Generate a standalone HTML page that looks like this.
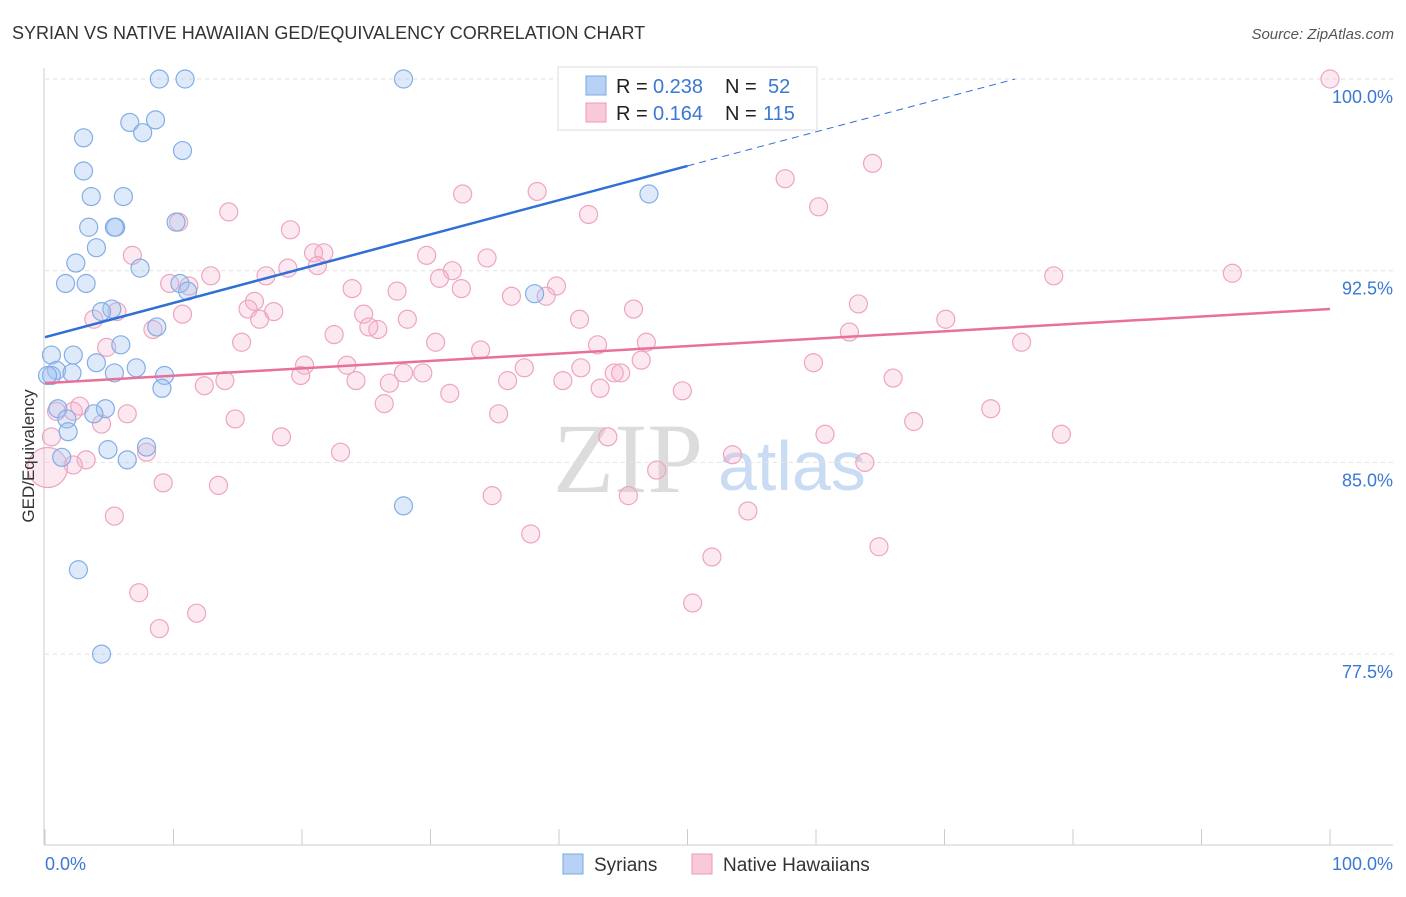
<!DOCTYPE html>
<html><head><meta charset="utf-8"><style>
body{margin:0;background:#fff;font-family:"Liberation Sans",sans-serif;}
svg text{font-family:"Liberation Sans",sans-serif;}
</style></head><body>
<svg id="chart" width="1406" height="892" xmlns="http://www.w3.org/2000/svg">
<text x="12" y="39" font-size="18" fill="#333">SYRIAN VS NATIVE HAWAIIAN GED/EQUIVALENCY CORRELATION CHART</text>
<text x="1394" y="39" font-size="15" fill="#555" font-style="italic" text-anchor="end">Source: ZipAtlas.com</text>
<g>
<text x="553" y="492" font-size="100" fill="#dcdcdc" style="font-family:'Liberation Serif',serif">ZIP</text>
<text x="718" y="490" font-size="70" fill="#c9dcf3">atlas</text>
</g>
<g id="grid"></g>
<g id="axes"></g>
<g id="marks"></g>
<g>
<rect x="558" y="67" width="259" height="63" fill="#fff" stroke="#ddd"/>
<rect x="586" y="76" width="20" height="19" fill="#b7d2f5" stroke="#7aa8e0"/>
<rect x="586" y="103" width="20" height="19" fill="#f9c9d9" stroke="#ec9ab8"/>
<text x="616" y="93" font-size="20" fill="#222">R =</text>
<text x="653" y="93" font-size="20" fill="#3a78d4">0.238</text>
<text x="725" y="93" font-size="20" fill="#222">N =</text>
<text x="768" y="93" font-size="20" fill="#3a78d4">52</text>
<text x="616" y="120" font-size="20" fill="#222">R =</text>
<text x="653" y="120" font-size="20" fill="#3a78d4">0.164</text>
<text x="725" y="120" font-size="20" fill="#222">N =</text>
<text x="763" y="120" font-size="20" fill="#3a78d4">115</text>
</g>
<g>
<rect x="563" y="854" width="20" height="20" fill="#b7d2f5" stroke="#7aa8e0"/>
<text x="594" y="871" font-size="19" fill="#333">Syrians</text>
<rect x="692" y="854" width="20" height="20" fill="#f9c9d9" stroke="#ec9ab8"/>
<text x="723" y="871" font-size="19" fill="#333">Native Hawaiians</text>
</g>
<text transform="translate(34,456) rotate(-90)" font-size="17" fill="#333" text-anchor="middle">GED/Equivalency</text>
</svg>
<script>
const blueX=[8.9,10.9,27.9,3.0,6.6,8.6,7.6,10.7,3.0,3.6,6.1,3.4,5.5,5.4,10.2,4.0,2.4,7.4,1.6,3.2,10.5,11.1,5.2,4.4,8.7,5.9,0.5,2.2,4.0,7.1,0.9,2.1,5.4,0.5,9.3,9.1,1.0,4.7,3.8,1.7,1.8,4.9,7.9,1.3,6.4,27.9,2.6,4.4,47.0,38.1,0.2];
const blueY=[100,100,100,97.7,98.3,98.4,97.9,97.2,96.4,95.4,95.4,94.2,94.2,94.2,94.4,93.4,92.8,92.6,92.0,92.0,92.0,91.7,91.0,90.9,90.3,89.6,89.2,89.2,88.9,88.7,88.6,88.5,88.5,88.4,88.4,87.9,87.1,87.1,86.9,86.7,86.2,85.5,85.6,85.2,85.1,83.3,80.8,77.5,95.5,91.6,88.4];
const pinkX=[59.3,100,64.4,57.6,32.5,38.3,60.2,42.3,14.3,10.4,19.1,20.9,21.7,6.8,29.7,34.4,17.2,12.9,18.9,21.2,31.7,30.7,78.5,92.4,23.9,27.4,32.4,39.8,36.3,39.0,11.2,9.7,16.3,15.8,17.8,16.7,10.7,3.8,5.6,24.8,25.9,28.2,41.6,45.8,63.3,70.1,8.4,22.5,25.2,62.6,15.3,30.4,43.0,46.8,76.0,4.8,33.9,20.2,23.5,46.4,59.8,41.7,19.9,14.0,24.2,26.8,27.9,29.4,36.0,37.3,40.3,44.3,44.8,43.2,49.6,66.0,12.4,31.5,26.4,2.2,0.9,2.7,6.4,14.8,35.3,67.6,73.6,4.4,18.4,43.8,60.7,79.1,0.5,23.0,7.9,3.2,2.2,53.5,63.8,47.6,9.2,13.5,34.8,45.4,5.4,54.7,37.8,51.9,64.9,7.3,11.8,8.9,50.4,0.2];
const pinkY=[100,100,96.7,96.1,95.5,95.6,95.0,94.7,94.8,94.4,94.1,93.2,93.2,93.1,93.1,93.0,92.3,92.3,92.6,92.7,92.5,92.2,92.3,92.4,91.8,91.7,91.8,91.9,91.5,91.5,91.9,92.0,91.3,91.0,90.9,90.6,90.8,90.6,90.9,90.8,90.2,90.6,90.6,91.0,91.2,90.6,90.2,90.0,90.3,90.1,89.7,89.7,89.6,89.7,89.7,89.5,89.4,88.8,88.8,89.0,88.9,88.7,88.4,88.2,88.2,88.1,88.5,88.5,88.2,88.7,88.2,88.5,88.5,87.9,87.8,88.3,88.0,87.7,87.3,87.0,87.0,87.2,86.9,86.7,86.9,86.6,87.1,86.5,86.0,86.0,86.1,86.1,86.0,85.4,85.4,85.1,84.9,85.3,85.0,84.7,84.2,84.1,83.7,83.7,82.9,83.1,82.2,81.3,81.7,79.9,79.1,78.5,79.5,84.8];
const yTicks=[100,92.5,85,77.5];
const yTickLabels=["100.0%","92.5%","85.0%","77.5%"];
const blueTrend=[[0,89.9],[50,96.6],[75.5,100]];
const pinkTrend=[[0,88.1],[100,91.0]];
const NS="http://www.w3.org/2000/svg";
const sx=v=>45+v*12.85, sy=v=>79+(100-v)*25.56;
function mk(p,t,a){const e=document.createElementNS(NS,t);for(const k in a)e.setAttribute(k,a[k]);p.appendChild(e);return e;}
const grid=document.getElementById('grid'),axes=document.getElementById('axes'),marks=document.getElementById('marks');
yTicks.forEach((t,i)=>{
 const l=mk(grid,'line',{x1:45,x2:1393,y1:sy(t),y2:sy(t),stroke:'#e2e2e2','stroke-dasharray':'4 4'});
 
 
 const tx=mk(axes,'text',{x:1393,y:sy(t)+24,'font-size':18,fill:'#3a78d4','text-anchor':'end'});
 tx.textContent=yTickLabels[i];
 
 
});
mk(axes,'line',{x1:44,x2:44,y1:68,y2:845,stroke:'#ccc'});
mk(axes,'line',{x1:44,x2:1393,y1:845,y2:845,stroke:'#ccc'});
for(let i=0;i<=10;i++){const t=mk(axes,'line',{x1:sx(i*10),x2:sx(i*10),y1:829,y2:845,stroke:'#ccc'});
 
 }
const x0=mk(axes,'text',{x:45,y:870,'font-size':18,fill:'#3a78d4'});x0.textContent='0.0%';


const x1=mk(axes,'text',{x:1393,y:870,'font-size':18,fill:'#3a78d4','text-anchor':'end'});x1.textContent='100.0%';


pinkX.forEach((x,i)=>{const c=mk(marks,'circle',{cx:sx(x),cy:sy(pinkY[i]),r:(i===pinkX.length-1?20:9),fill:'rgba(246,180,205,0.3)',stroke:'#eea5c0','stroke-width':1.2});
 
 });
blueX.forEach((x,i)=>{const c=mk(marks,'circle',{cx:sx(x),cy:sy(blueY[i]),r:9,fill:'rgba(160,195,240,0.35)',stroke:'#82aee6','stroke-width':1.2});
 
 });
const b1=mk(marks,'line',{x1:sx(blueTrend[0][0]),y1:sy(blueTrend[0][1]),x2:sx(blueTrend[1][0]),y2:sy(blueTrend[1][1]),stroke:'#2f6fd6','stroke-width':2.5});


const b2=mk(marks,'line',{x1:sx(blueTrend[1][0]),y1:sy(blueTrend[1][1]),x2:sx(blueTrend[2][0]),y2:sy(blueTrend[2][1]),stroke:'#2f6fd6','stroke-width':1,'stroke-dasharray':'7 5'});


const p1=mk(marks,'line',{x1:sx(pinkTrend[0][0]),y1:sy(pinkTrend[0][1]),x2:sx(pinkTrend[1][0]),y2:sy(pinkTrend[1][1]),stroke:'#e8709a','stroke-width':2.5});


</script>
</body></html>
